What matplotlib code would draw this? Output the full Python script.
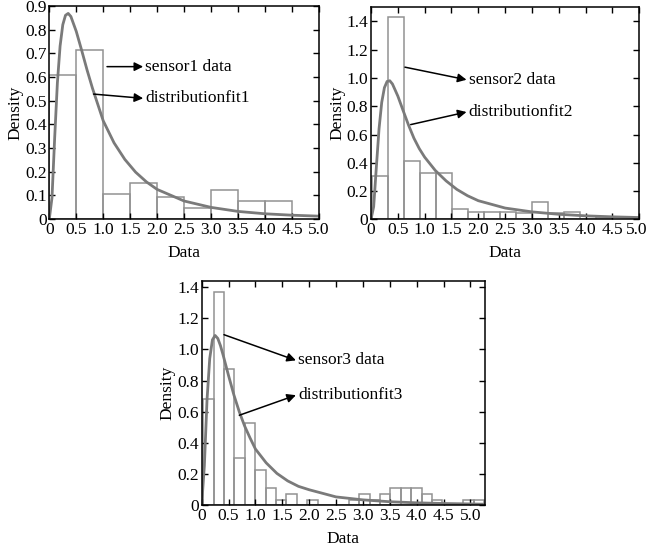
import numpy as np
import matplotlib
matplotlib.use('Agg')
import matplotlib.pyplot as plt
import matplotlib.transforms as mtransforms

plt.rcParams['font.family'] = ['Liberation Serif', 'DejaVu Serif']
plt.rcParams['font.size'] = 12.5

# ---- sensor1 ----
edges1 = [0.0, 0.5, 1.0, 1.5, 2.0, 2.5, 3.0, 3.5, 4.0, 4.5]
dens1 = [0.607, 0.714, 0.106, 0.153, 0.091, 0.046, 0.121, 0.074, 0.074]
fitx1 = [0, 0.05, 0.1, 0.15, 0.2, 0.25, 0.3, 0.35, 0.4, 0.5, 0.6, 0.7, 0.8, 0.9,
         1.0, 1.2, 1.4, 1.6, 1.8, 2.0, 2.5, 3.0, 3.5, 4.0, 4.5, 5.0]
fity1 = [0, 0.09, 0.345, 0.576, 0.731, 0.821, 0.861, 0.869, 0.856, 0.793, 0.713,
         0.630, 0.553, 0.484, 0.415, 0.322, 0.252, 0.198, 0.157, 0.125, 0.076,
         0.049, 0.032, 0.022, 0.016, 0.012]

# ---- sensor2 ----
edges2 = [0.024, 0.322, 0.620, 0.918, 1.216, 1.514, 1.812, 2.110, 2.408, 2.706,
          3.004, 3.302, 3.600, 3.898, 4.196, 4.494]
dens2 = [0.31, 1.43, 0.41, 0.33, 0.33, 0.076, 0.05, 0.05, 0.05, 0.045,
         0.125, 0.045, 0.05, 0.005, 0.016]
fitx2 = [0, 0.05, 0.1, 0.15, 0.2, 0.25, 0.3, 0.35, 0.4, 0.5, 0.6, 0.7, 0.8, 0.9,
         1.0, 1.2, 1.4, 1.6, 1.8, 2.0, 2.5, 3.0, 3.5, 4.0, 4.5, 5.0]
fity2 = [0, 0.09, 0.37, 0.64, 0.827, 0.931, 0.975, 0.98, 0.957, 0.872, 0.768,
         0.666, 0.574, 0.50, 0.44, 0.345, 0.272, 0.212, 0.167, 0.132, 0.080,
         0.053, 0.036, 0.025, 0.018, 0.013]

# ---- sensor3 ----
edges3 = [0.03, 0.223, 0.417, 0.61, 0.803, 0.997, 1.19, 1.383, 1.577, 1.77,
          1.963, 2.157, 2.35, 2.543, 2.737, 2.93, 3.123, 3.317, 3.51, 3.703,
          3.897, 4.09, 4.283, 4.477, 4.67, 4.863, 5.057, 5.25]
dens3 = [0.684, 1.368, 0.872, 0.30, 0.528, 0.224, 0.109, 0.032, 0.07, 0.0,
         0.032, 0.0, 0.0, 0.0, 0.032, 0.07, 0.032, 0.07, 0.109, 0.109,
         0.109, 0.07, 0.032, 0.0, 0.0, 0.032, 0.032]
fitx3 = [0, 0.05, 0.1, 0.15, 0.2, 0.25, 0.3, 0.35, 0.4, 0.5, 0.6, 0.7, 0.8, 0.9,
         1.0, 1.2, 1.4, 1.6, 1.8, 2.0, 2.5, 3.0, 3.5, 4.0, 4.5, 5.0, 5.27]
fity3 = [0, 0.252, 0.679, 0.942, 1.062, 1.09, 1.071, 1.024, 0.963, 0.832, 0.707,
         0.599, 0.507, 0.431, 0.36, 0.271, 0.203, 0.155, 0.120, 0.098, 0.052,
         0.033, 0.021, 0.014, 0.0096, 0.0068, 0.005]

bar_col = '#929292'
fit_col = '#7a7a7a'


def panel(ax, edges, dens, fx, fy, ylim, yticks, xlim, n, data_xy, data_txt, fit_xy, fit_txt):
    e = np.array(edges)
    ax.bar(e[:-1], dens, width=np.diff(e), align='edge', facecolor='none',
           edgecolor=bar_col, linewidth=1.1)
    ax.plot(fx, fy, color=fit_col, linewidth=2)
    ax.set_xlim(*xlim)
    ax.set_ylim(*ylim)
    xt = np.arange(0, 5.01, 0.5)
    ax.set_xticks(xt)
    ax.set_xticklabels(['0'] + ['%.1f' % v for v in xt[1:]])
    ax.set_yticks(yticks)
    ax.set_yticklabels(['0'] + ['%.1f' % v for v in yticks[1:]])
    ax.tick_params(direction='in', top=True, right=True, length=4, width=1, pad=2)
    for s in ax.spines.values():
        s.set_linewidth(1.1)
    ax.set_xlabel('Data', labelpad=5)
    ax.set_ylabel('Density', labelpad=1)
    ap = dict(arrowstyle='-|>', color='black', lw=1.1, mutation_scale=13,
              shrinkA=0, shrinkB=0)
    ax.annotate('', xy=data_txt, xytext=data_xy, arrowprops=ap)
    ax.text(data_txt[0] + 0.04, data_txt[1], 'sensor%d data' % n, va='center', ha='left')
    ax.annotate('', xy=fit_txt, xytext=fit_xy, arrowprops=ap)
    ax.text(fit_txt[0] + 0.04, fit_txt[1], 'distributionfit%d' % n, va='center', ha='left')


fig = plt.figure(figsize=(6.47, 5.53), dpi=100)
ax1 = fig.add_axes([0.0762, 0.604, 0.4168, 0.385])
ax2 = fig.add_axes([0.5734, 0.6033, 0.4147, 0.3837])
ax3 = fig.add_axes([0.3117, 0.0868, 0.4379, 0.405])

panel(ax1, edges1, dens1, fitx1, fity1, (0, 0.9), np.arange(0, 0.91, 0.1), (0, 5), 1,
      (1.07, 0.644), (1.74, 0.644), (0.82, 0.528), (1.74, 0.51))
panel(ax2, edges2, dens2, fitx2, fity2, (0, 1.5), np.arange(0, 1.41, 0.2), (0, 5), 2,
      (0.633, 1.076), (1.78, 0.987), (0.74, 0.67), (1.78, 0.759))
panel(ax3, edges3, dens3, fitx3, fity3, (0, 1.44), np.arange(0, 1.41, 0.2), (0, 5.27), 3,
      (0.415, 1.095), (1.753, 0.93), (0.70, 0.577), (1.753, 0.706))

# keep the last tick label of the right panel inside the figure
lab = ax2.get_xticklabels()[-1]
lab.set_transform(lab.get_transform() + mtransforms.ScaledTranslation(-1.8 / 72, 0, fig.dpi_scale_trans))

fig.savefig('out.png', dpi=100)
